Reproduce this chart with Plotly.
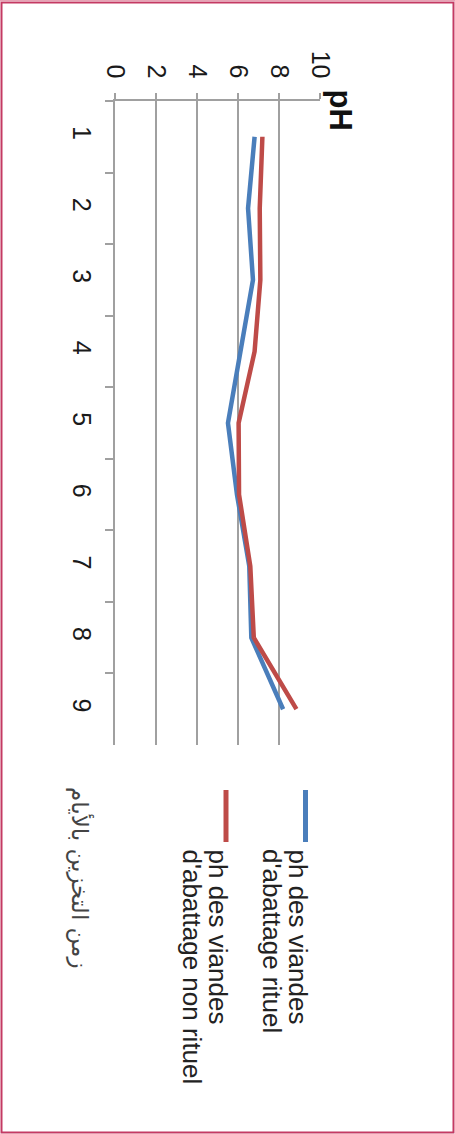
import plotly.graph_objects as go

days = ["1", "2", "3", "4", "5", "6", "7", "8", "9"]
ph_rituel = [6.81, 6.49, 6.73, 6.12, 5.51, 5.95, 6.55, 6.65, 8.2]
ph_non_rituel = [7.19, 7.06, 7.09, 6.81, 6.03, 6.05, 6.6, 6.77, 8.85]
ph_ticks = [0, 2, 4, 6, 8, 10]
name_rituel = ["ph des viandes", "d'abattage rituel"]
name_non_rituel = ["ph des viandes", "d'abattage non rituel"]
x_title = "زمن التخزين بالأيام"
y_title = "pH"

BLUE = "#4a7ebb"
RED = "#be4b48"
GRID = "#a0a0a0"
W, H = 455, 1134
L, R, T, B = 115, 135, 101, 389


def px(x):
    return (x - L) / (W - L - R)


def py(y):
    return 1 - (y - T) / (H - T - B)


fig = go.Figure()
fig.add_trace(go.Scatter(x=ph_rituel, y=days, mode="lines",
                         line=dict(color=BLUE, width=4.5), showlegend=False))
fig.add_trace(go.Scatter(x=ph_non_rituel, y=days, mode="lines",
                         line=dict(color=RED, width=4.5), showlegend=False))

font_main = "Liberation Sans, Arial, sans-serif"

fig.update_layout(
    width=W, height=H,
    margin=dict(l=L, r=R, t=T, b=B),
    paper_bgcolor="white", plot_bgcolor="white",
    font=dict(family=font_main, color="#222222"),
    xaxis=dict(range=[0, 10], side="top", tickvals=ph_ticks,
               ticktext=[str(v) for v in ph_ticks], tickangle=90,
               showgrid=True, gridcolor=GRID, gridwidth=1.5,
               showline=True, linecolor=GRID, linewidth=1.5,
               ticks="outside", ticklen=6, tickcolor=GRID, tickwidth=1.5,
               ticklabelstandoff=6,
               tickfont=dict(size=25, color="#1a1a1a"), zeroline=False,
               mirror=False, fixedrange=True),
    yaxis=dict(type="category", categoryorder="array", categoryarray=days,
               range=[8.5, -0.5], tickangle=90, tickson="boundaries",
               showgrid=False, showline=True, linecolor=GRID, linewidth=1.5,
               ticks="outside", ticklen=8, tickcolor=GRID, tickwidth=1.5,
               ticklabelstandoff=10,
               tickfont=dict(size=25, color="#1a1a1a"), zeroline=False,
               fixedrange=True),
)

ann = []
# axis titles
ann.append(dict(text="<b>" + y_title + "</b>", x=px(340), y=py(87),
                xref="paper", yref="paper", xanchor="center", yanchor="top",
                textangle=90, showarrow=False,
                font=dict(size=31, family=font_main, color="#111111")))
ann.append(dict(text=x_title, x=px(80), y=py(785),
                xref="paper", yref="paper", xanchor="center", yanchor="top",
                textangle=90, showarrow=False,
                font=dict(size=23, family="DejaVu Sans, Noto Sans, sans-serif",
                          color="#444444")))
# legend texts, one annotation per line
legend_cols = [(name_rituel, [298, 272]), (name_non_rituel, [218, 192])]
for names, xs in legend_cols:
    for t, xc in zip(names, xs):
        ann.append(dict(text=t, x=px(xc), y=py(848),
                        xref="paper", yref="paper", xanchor="center",
                        yanchor="top", textangle=90, showarrow=False,
                        borderpad=0,
                        font=dict(size=26, family=font_main, color="#222222")))
fig.update_layout(annotations=ann)

shapes = []
# legend swatches
for xc, col in [(305.5, BLUE), (226, RED)]:
    shapes.append(dict(type="line", xref="paper", yref="paper",
                       x0=px(xc), x1=px(xc), y0=py(790), y1=py(842),
                       line=dict(color=col, width=5)))
# outer frame
shapes.append(dict(type="rect", xref="paper", yref="paper",
                   x0=px(1.5), x1=px(453.5), y0=py(2.5), y1=py(1132.5),
                   line=dict(color="#c43a63", width=2), layer="above"))
shapes.append(dict(type="line", xref="paper", yref="paper",
                   x0=px(0), x1=px(455), y0=py(0.8), y1=py(0.8),
                   line=dict(color="#e6a3b5", width=1.6), layer="above"))
fig.update_layout(shapes=shapes)

fig.write_html("out.html",
               config={"displayModeBar": False},
               post_script="document.body.style.margin='0';"
                           "document.body.style.overflow='hidden';")
